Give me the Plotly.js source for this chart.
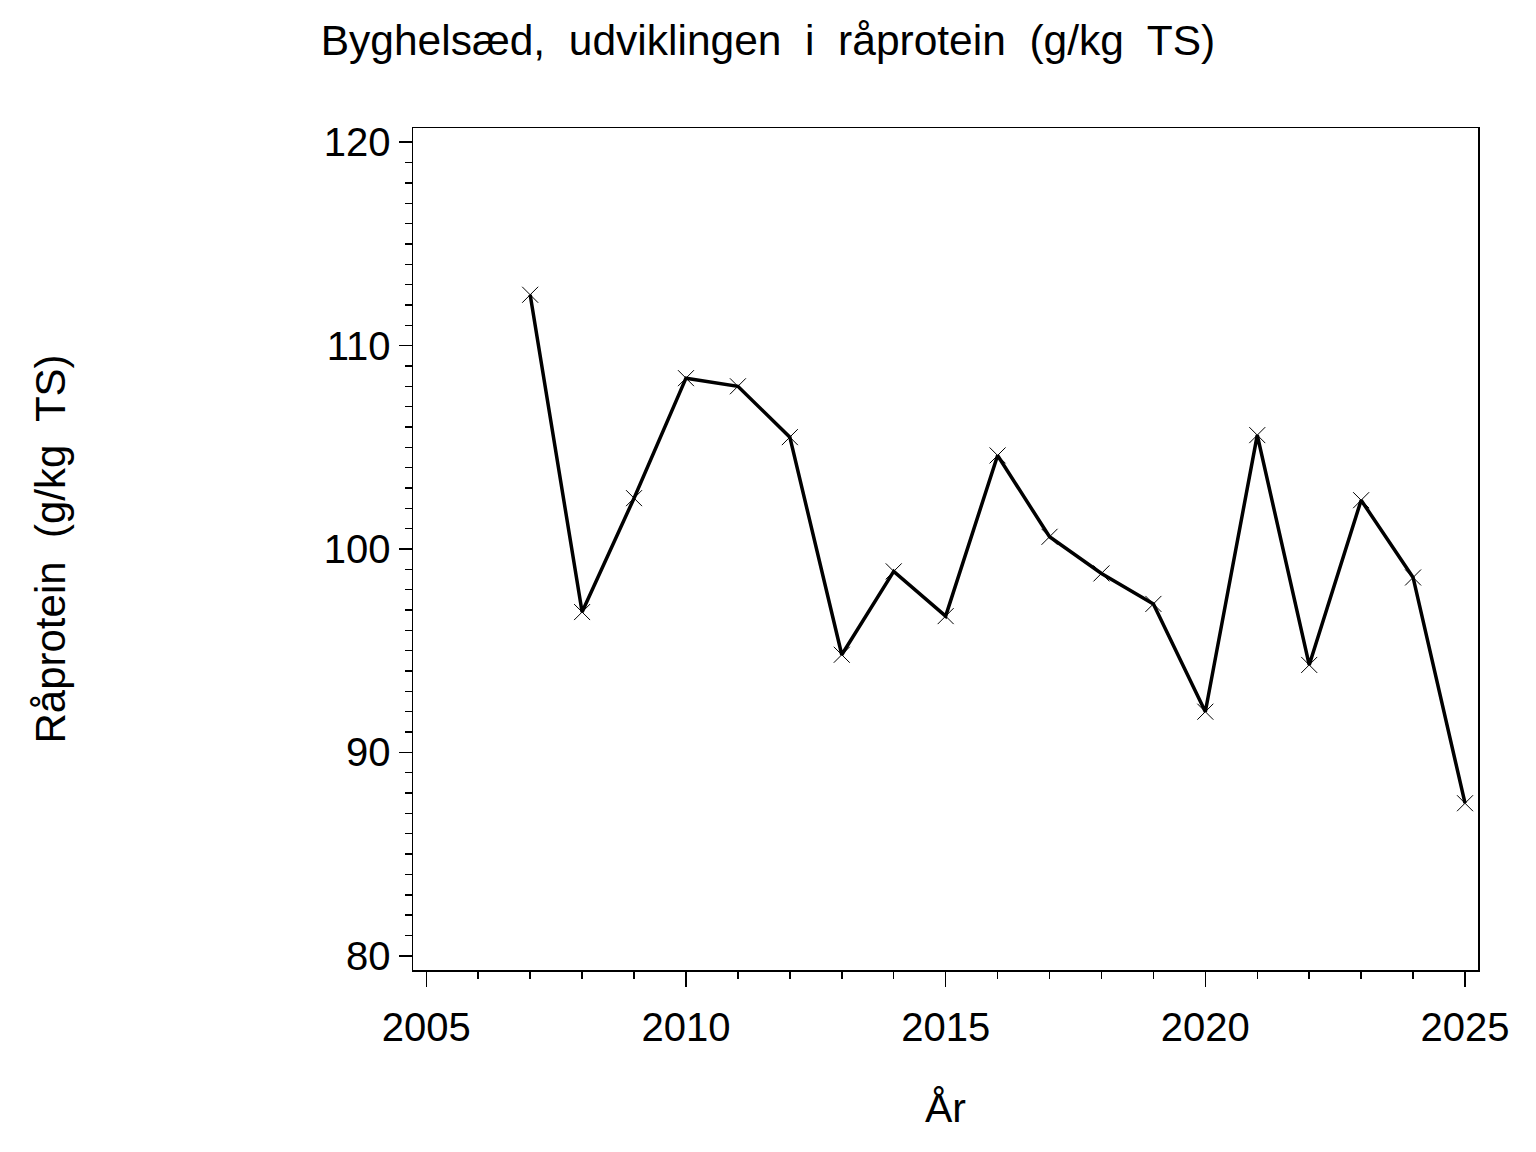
<!DOCTYPE html>
<html>
<head>
<meta charset="utf-8">
<script src="https://cdn.plot.ly/plotly-3.0.1.min.js"></script>
<style>html,body{margin:0;padding:0;background:#fff;} #chart{width:1536px;height:1152px;}</style>
</head>
<body>
<div id="chart"></div>
<script>
const years = [2007, 2008, 2009, 2010, 2011, 2012, 2013, 2014, 2015, 2016, 2017, 2018, 2019, 2020, 2021, 2022, 2023, 2024, 2025];
const protein = [112.5, 96.9, 102.5, 108.4, 108.0, 105.5, 94.8, 98.9, 96.7, 104.6, 100.6, 98.8, 97.3, 92.0, 105.6, 94.3, 102.4, 98.6, 87.5];
const xTicks = [2005, 2010, 2015, 2020, 2025];
const yTicks = [80, 90, 100, 110, 120];
const titleText = "Byghelsæd,  udviklingen  i  råprotein  (g/kg  TS)";
const xTitle = "År";
const yTitle = "Råprotein  (g/kg  TS)";

const font = "Liberation Sans, Arial, Helvetica, sans-serif";

const trace = {
  x: years, y: protein, type: 'scatter', mode: 'lines+markers',
  line: {color: '#000', width: 3.5},
  marker: {symbol: 'x-thin-open', size: 16, color: '#000', line: {color: '#000', width: 1}},
  showlegend: false, hoverinfo: 'skip'
};

const layout = {
  width: 1536, height: 1152,
  paper_bgcolor: '#fff', plot_bgcolor: '#fff',
  margin: {l: 413, r: 58, t: 128, b: 182},
  font: {family: font, color: '#000', size: 40},
  title: {text: titleText, xref: 'container', x: 0.5, xanchor: 'center', yref: 'container', y: 1 - 40/1152, yanchor: 'middle', font: {family: font, size: 42.5, color: '#000'}},
  xaxis: {
    range: [2004.744, 2025.25], tickvals: xTicks, ticktext: xTicks.map(String),
    ticks: 'outside', ticklen: 15, tickwidth: 1.5, tickcolor: '#000',
    minor: {dtick: 1, tick0: 2005, ticks: 'outside', ticklen: 7, tickwidth: 1.5, tickcolor: '#000', showgrid: false},
    showgrid: false, zeroline: false, showline: true, linecolor: '#000', linewidth: 1.5, mirror: true,
    tickfont: {family: font, size: 40, color: '#000'}, ticklabelstandoff: 6,
    title: {text: xTitle, font: {family: font, size: 41, color: '#000'}, standoff: 46}
  },
  yaxis: {
    range: [79.30, 120.70], tickvals: yTicks, ticktext: yTicks.map(String),
    ticks: 'outside', ticklen: 13, tickwidth: 1.5, tickcolor: '#000',
    minor: {dtick: 1, tick0: 80, ticks: 'outside', ticklen: 7, tickwidth: 1.5, tickcolor: '#000', showgrid: false},
    showgrid: false, zeroline: false, showline: true, linecolor: '#000', linewidth: 1.5, mirror: true,
    tickfont: {family: font, size: 40, color: '#000'}, ticklabelstandoff: 0,
    title: {text: yTitle, font: {family: font, size: 42, color: '#000'}, standoff: 245}
  }
};

Plotly.newPlot('chart', [trace], layout, {staticPlot: true, displayModeBar: false});
</script>
</body>
</html>
